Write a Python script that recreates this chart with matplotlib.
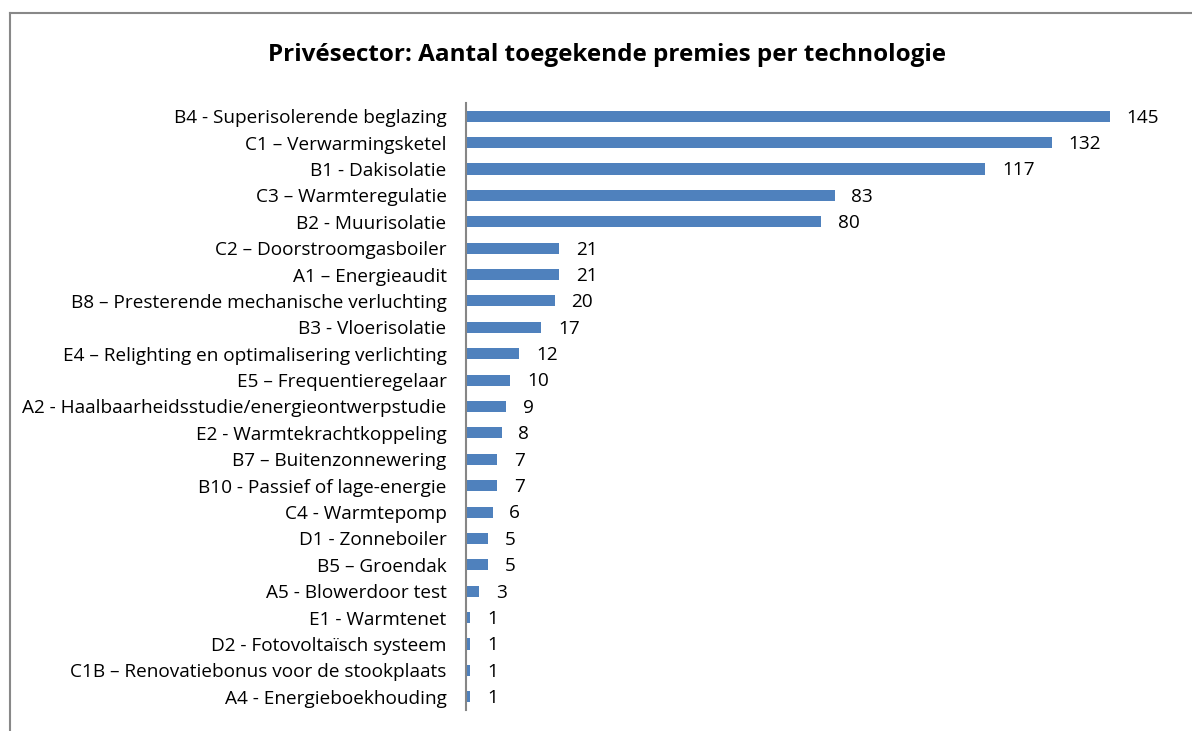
import matplotlib.pyplot as plt
from matplotlib.lines import Line2D

categories = [
    'B4 - Superisolerende beglazing',
    'C1 – Verwarmingsketel',
    'B1 - Dakisolatie',
    'C3 – Warmteregulatie',
    'B2 - Muurisolatie',
    'C2 – Doorstroomgasboiler',
    'A1 – Energieaudit',
    'B8 – Presterende mechanische verluchting',
    'B3 - Vloerisolatie',
    'E4 – Relighting en optimalisering verlichting',
    'E5 – Frequentieregelaar',
    'A2 - Haalbaarheidsstudie/energieontwerpstudie',
    'E2 - Warmtekrachtkoppeling',
    'B7 – Buitenzonnewering',
    'B10 - Passief of lage-energie',
    'C4 - Warmtepomp',
    'D1 - Zonneboiler',
    'B5 – Groendak',
    'A5 - Blowerdoor test',
    'E1 - Warmtenet',
    'D2 - Fotovoltaïsch systeem',
    'C1B – Renovatiebonus voor de stookplaats',
    'A4 - Energieboekhouding',
]
values = [145, 132, 117, 83, 80, 21, 21, 20, 17, 12, 10, 9, 8, 7, 7, 6, 5, 5, 3, 1, 1, 1, 1]

plt.rcParams['font.family'] = ['Open Sans', 'DejaVu Sans']

W, H = 1192, 731
fig = plt.figure(figsize=(W / 100, H / 100), dpi=100)
# axes placed in pixels: axis line at x=466, y from 103 to 710
x0, x1 = 466, 466 + 160 * 4.44
y_top, y_bot = 103, 710
ax = fig.add_axes([x0 / W, 1 - y_bot / H, (x1 - x0) / W, (y_bot - y_top) / H])

pos = list(range(len(categories)))
ax.barh(pos, values, height=0.42, color='#4F81BD')
ax.set_ylim(len(categories) - 0.5, -0.5)
ax.set_xlim(0, 160)

for p, v in zip(pos, values):
    ax.annotate(str(v), (v, p), xytext=(12, -1), textcoords='offset points',
                va='center', ha='left', fontsize=13.7, color='black')

ax.set_yticks(pos)
ax.set_yticklabels(categories, fontsize=13.7)
ax.tick_params(axis='y', length=0, pad=14)
ax.set_xticks([])
for s in ['top', 'right', 'bottom']:
    ax.spines[s].set_visible(False)
ax.spines['left'].set_color('#868686')
ax.spines['left'].set_linewidth(1.5)

fig.text(607 / W, 1 - 55 / H, 'Privésector: Aantal toegekende premies per technologie',
         ha='center', va='center', fontsize=17.5, fontweight='bold')

# chart frame (cropped)
fig.add_artist(Line2D([10 / W, 10 / W], [0, 1 - 13 / H], color='#888888', lw=1.5))
fig.add_artist(Line2D([10 / W, 1], [1 - 13 / H, 1 - 13 / H], color='#888888', lw=1.5))

fig.savefig('out.png', dpi=100)
